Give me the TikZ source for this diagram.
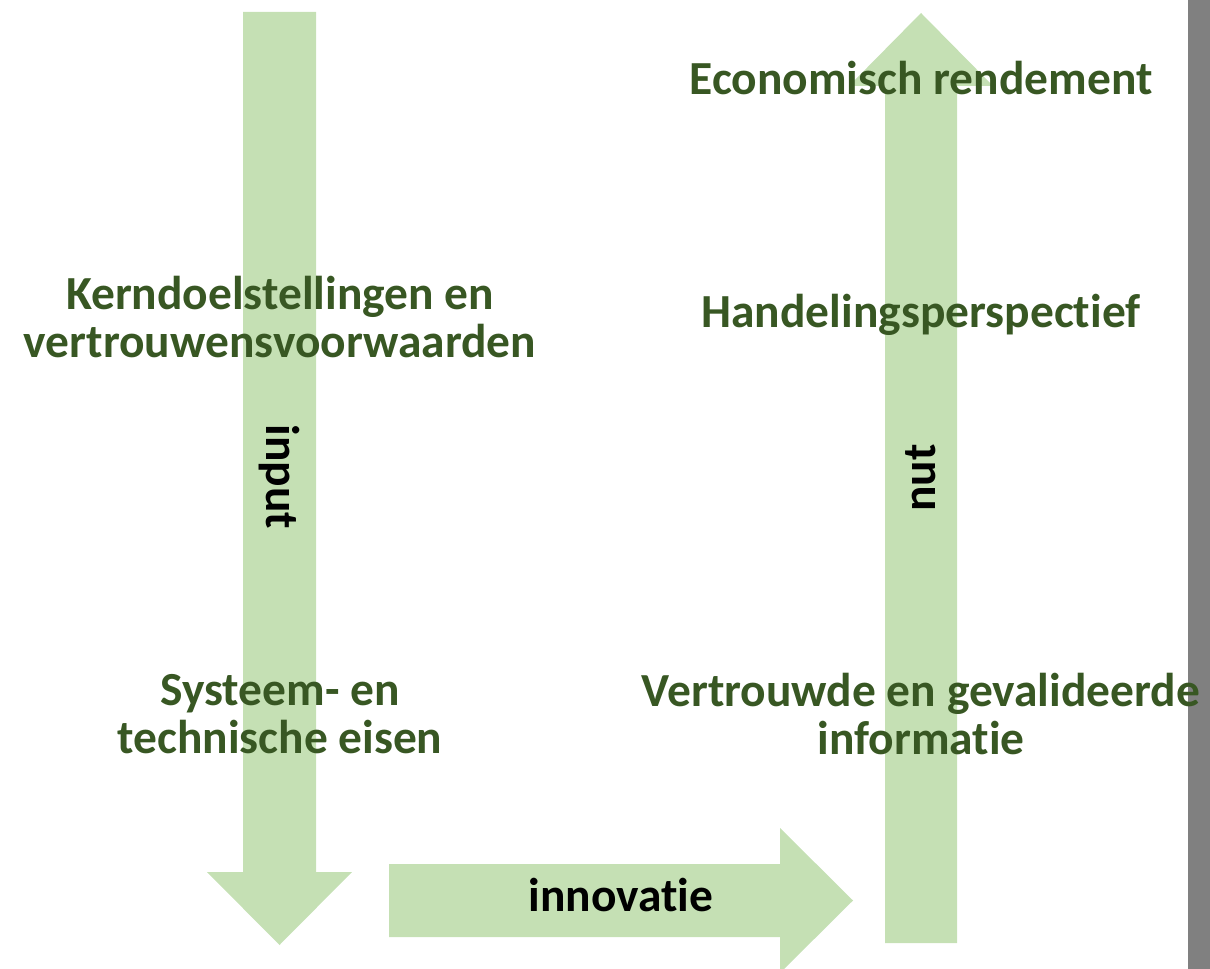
\documentclass[tikz,border=0pt]{standalone}
\usepackage{fontspec}
\setmainfont{Carlito}[Ligatures=NoCommon]
\usepackage{xcolor}
\usepackage{tikz}
\usetikzlibrary{positioning}
\definecolor{arrowgreen}{HTML}{C5E0B4}
\definecolor{textgreen}{HTML}{385723}
\definecolor{sidegray}{HTML}{808080}
\tikzstyle{blockarrow}=[fill=arrowgreen, draw=none]
\tikzstyle{steptext}=[text=textgreen, font=\bfseries\fontsize{35.6}{36}\selectfont, align=center, inner sep=0pt]
\tikzstyle{flowlabel}=[text=black, font=\bfseries\fontsize{35.6}{36}\selectfont, inner sep=0pt]

\begin{document}
\begin{tikzpicture}[x=0.75pt, y=-0.75pt]
\useasboundingbox (0,0) rectangle (1210,969);
\fill[sidegray] (1188,0) rectangle (1210,969);

\fill[blockarrow] (243,12) -- (316,12) -- (316,872) -- (352,872) -- (279.5,945) -- (207,872) -- (243,872) -- cycle;
\fill[blockarrow] (389,864) -- (780,864) -- (780,828) -- (853,900.5) -- (780,973) -- (780,937) -- (389,937) -- cycle;
\fill[blockarrow] (885,943) -- (957,943) -- (957,86) -- (993,86) -- (921,13) -- (849,86) -- (885,86) -- cycle;

\node [steptext] (rendement) at (921,78) {Economisch rendement};
\node [steptext] (kerndoelen) at (280,317) {Kerndoelstellingen en\\vertrouwensvoorwaarden};
\node [steptext] (handeling) at (921,315) {Handelingsperspectief};
\node [steptext] (eisen) at (280,714) {Systeem- en\\technische eisen};
\node [steptext] (informatie) at (921,714) {Vertrouwde en gevalideerde\\informatie};

\node [flowlabel, rotate=-90] (input) at (279.5,477) {input};
\node [flowlabel, rotate=90] (nut) at (921,478) {nut};
\node [flowlabel] (innovatie) at (621,895) {innovatie};
\end{tikzpicture}
\end{document}
